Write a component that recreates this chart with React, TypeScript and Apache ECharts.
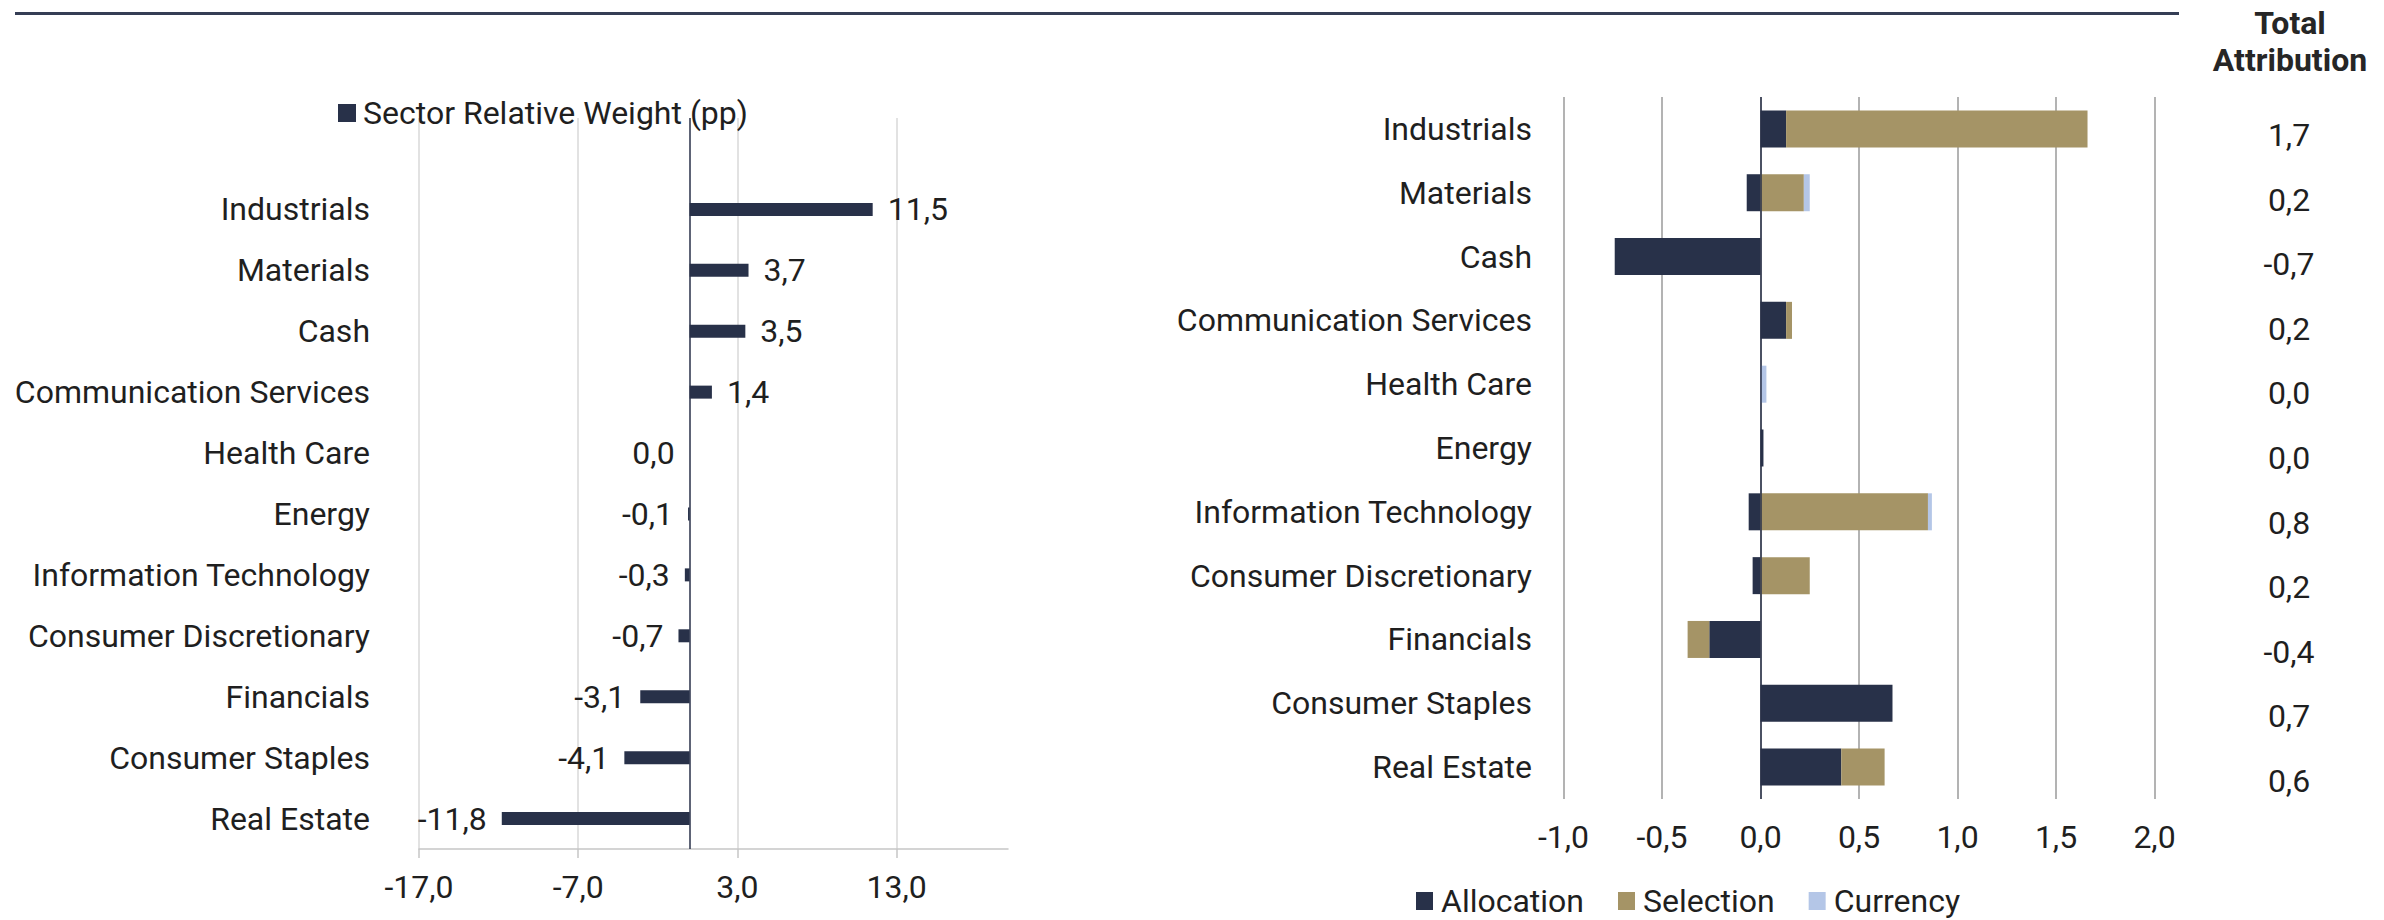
import React, { useEffect, useRef } from 'react';
import * as echarts from 'echarts';

const categories = [
  'Industrials',
  'Materials',
  'Cash',
  'Communication Services',
  'Health Care',
  'Energy',
  'Information Technology',
  'Consumer Discretionary',
  'Financials',
  'Consumer Staples',
  'Real Estate',
];

const relativeWeight = [11.5, 3.7, 3.5, 1.4, 0.0, -0.1, -0.3, -0.7, -3.1, -4.1, -11.8];
const weightTicks = [-17, -7, 3, 13];

const allocation = [0.13, -0.07, -0.74, 0.13, 0, 0.015, -0.06, -0.04, -0.26, 0.67, 0.41];
const selection = [1.53, 0.22, 0, 0.03, 0, 0, 0.85, 0.25, -0.11, 0, 0.22];
const currency = [0, 0.03, 0, 0, 0.03, 0, 0.02, 0, 0, 0, 0];
const totalAttribution = [1.7, 0.2, -0.7, 0.2, 0.0, 0.0, 0.8, 0.2, -0.4, 0.7, 0.6];

const NAVY = '#283149';
const TAN = '#A59466';
const LIGHTBLUE = '#B4C6E7';
const TEXT = '#1f1f1f';
const FS = 32;

const fmt = (v: number) => Number(v).toFixed(1).replace('.', ',');

export default function App() {
  const ref = useRef<HTMLDivElement>(null);

  useEffect(() => {
    document.body.style.margin = '0';
    if (!ref.current) return;
    const chart = echarts.init(ref.current, null, { renderer: 'svg' });

    const option: any = {
      animation: false,
      textStyle: { fontFamily: 'Roboto', color: TEXT },
      graphic: [
        {
          type: 'line',
          shape: { x1: 15, y1: 13.5, x2: 2179, y2: 13.5 },
          style: { stroke: '#353E55', lineWidth: 3 },
        },
        {
          type: 'text',
          x: 2290,
          y: 4,
          style: {
            text: 'Total\nAttribution',
            align: 'center',
            verticalAlign: 'top',
            fontFamily: 'Roboto',
            fontWeight: 'bold',
            fontSize: FS,
            lineHeight: 37,
            fill: '#262626',
          },
        },
      ],
      legend: [
        {
          data: ['Sector Relative Weight (pp)'],
          left: 333,
          top: 90,
          icon: 'rect',
          itemWidth: 18,
          itemHeight: 18,
          textStyle: { fontSize: FS, color: TEXT, fontFamily: 'Roboto', lineHeight: 36, padding: [0, 0, 0, 2] },
        },
        {
          data: ['Allocation', 'Selection', 'Currency'],
          left: 1416,
          top: 884,
          icon: 'rect',
          itemWidth: 17,
          itemHeight: 18,
          itemGap: 34,
          padding: 0,
          textStyle: { fontSize: FS, color: TEXT, fontFamily: 'Roboto', lineHeight: 34, padding: [0, 0, 0, 3] },
        },
      ],
      grid: [
        { left: 419, top: 118, width: 589, height: 731 },
        { left: 1563.5, top: 97, width: 591, height: 702 },
        { left: 2289, top: 103, width: 2, height: 710 },
      ],
      xAxis: [
        {
          gridIndex: 0,
          type: 'value',
          min: -17,
          max: 20,
          axisLine: { show: true, lineStyle: { color: '#c6c6c6', width: 1.5 } },
          axisTick: { show: true, customValues: weightTicks, length: 9, lineStyle: { color: '#c6c6c6', width: 1.5 } },
          axisLabel: { customValues: weightTicks, formatter: fmt, fontSize: FS, color: TEXT, margin: 22 },
          splitLine: { show: true, lineStyle: { color: '#d9d9d9', width: 1.5 } },
        },
        {
          gridIndex: 1,
          type: 'value',
          min: -1,
          max: 2,
          interval: 0.5,
          axisLine: { show: false },
          axisTick: { show: false },
          axisLabel: { formatter: fmt, fontSize: FS, color: TEXT, margin: 22 },
          splitLine: { show: true, lineStyle: { color: '#9a9a9a', width: 1.5 } },
        },
        { gridIndex: 2, type: 'value', show: false, min: 0, max: 1 },
      ],
      yAxis: [
        {
          gridIndex: 0,
          type: 'category',
          inverse: true,
          data: ['', ...categories],
          axisLine: { show: false },
          axisTick: { show: false },
          axisLabel: { fontSize: FS, color: TEXT, margin: 49 },
        },
        {
          gridIndex: 1,
          type: 'category',
          inverse: true,
          data: categories,
          axisLine: { show: false },
          axisTick: { show: false },
          axisLabel: { fontSize: FS, color: TEXT, margin: 31.5 },
        },
        {
          gridIndex: 2,
          type: 'category',
          inverse: true,
          data: categories,
          axisLine: { show: false },
          axisTick: { show: false },
          axisLabel: {
            fontSize: FS,
            color: TEXT,
            margin: 0,
            align: 'center',
            formatter: (_v: string, i: number) => fmt(totalAttribution[i]),
          },
        },
      ],
      series: [
        {
          name: 'Sector Relative Weight (pp)',
          type: 'bar',
          xAxisIndex: 0,
          yAxisIndex: 0,
          barWidth: 13,
          itemStyle: { color: NAVY },
          data: [
            null,
            ...relativeWeight.map((v) => ({
              value: v,
              label: { position: v > 0 ? 'right' : 'left' },
            })),
          ],
          label: {
            show: true,
            fontSize: FS,
            color: TEXT,
            distance: 15,
            formatter: (p: any) => fmt(p.value),
          },
          markLine: {
            silent: true,
            symbol: 'none',
            label: { show: false },
            lineStyle: { color: NAVY, width: 1.5, type: 'solid' },
            data: [{ xAxis: 0 }],
          },
        },
        {
          name: 'Allocation',
          type: 'bar',
          stack: 'attr',
          xAxisIndex: 1,
          yAxisIndex: 1,
          barWidth: 37,
          itemStyle: { color: NAVY },
          data: allocation,
          markLine: {
            silent: true,
            symbol: 'none',
            label: { show: false },
            lineStyle: { color: NAVY, width: 1.5, type: 'solid' },
            data: [{ xAxis: 0 }],
          },
        },
        {
          name: 'Selection',
          type: 'bar',
          stack: 'attr',
          xAxisIndex: 1,
          yAxisIndex: 1,
          barWidth: 37,
          itemStyle: { color: TAN },
          data: selection,
        },
        {
          name: 'Currency',
          type: 'bar',
          stack: 'attr',
          xAxisIndex: 1,
          yAxisIndex: 1,
          barWidth: 37,
          itemStyle: { color: LIGHTBLUE },
          data: currency,
        },
      ],
    };

    chart.setOption(option);
    return () => chart.dispose();
  }, []);

  return <div ref={ref} style={{ width: 2384, height: 920 }} />;
}
